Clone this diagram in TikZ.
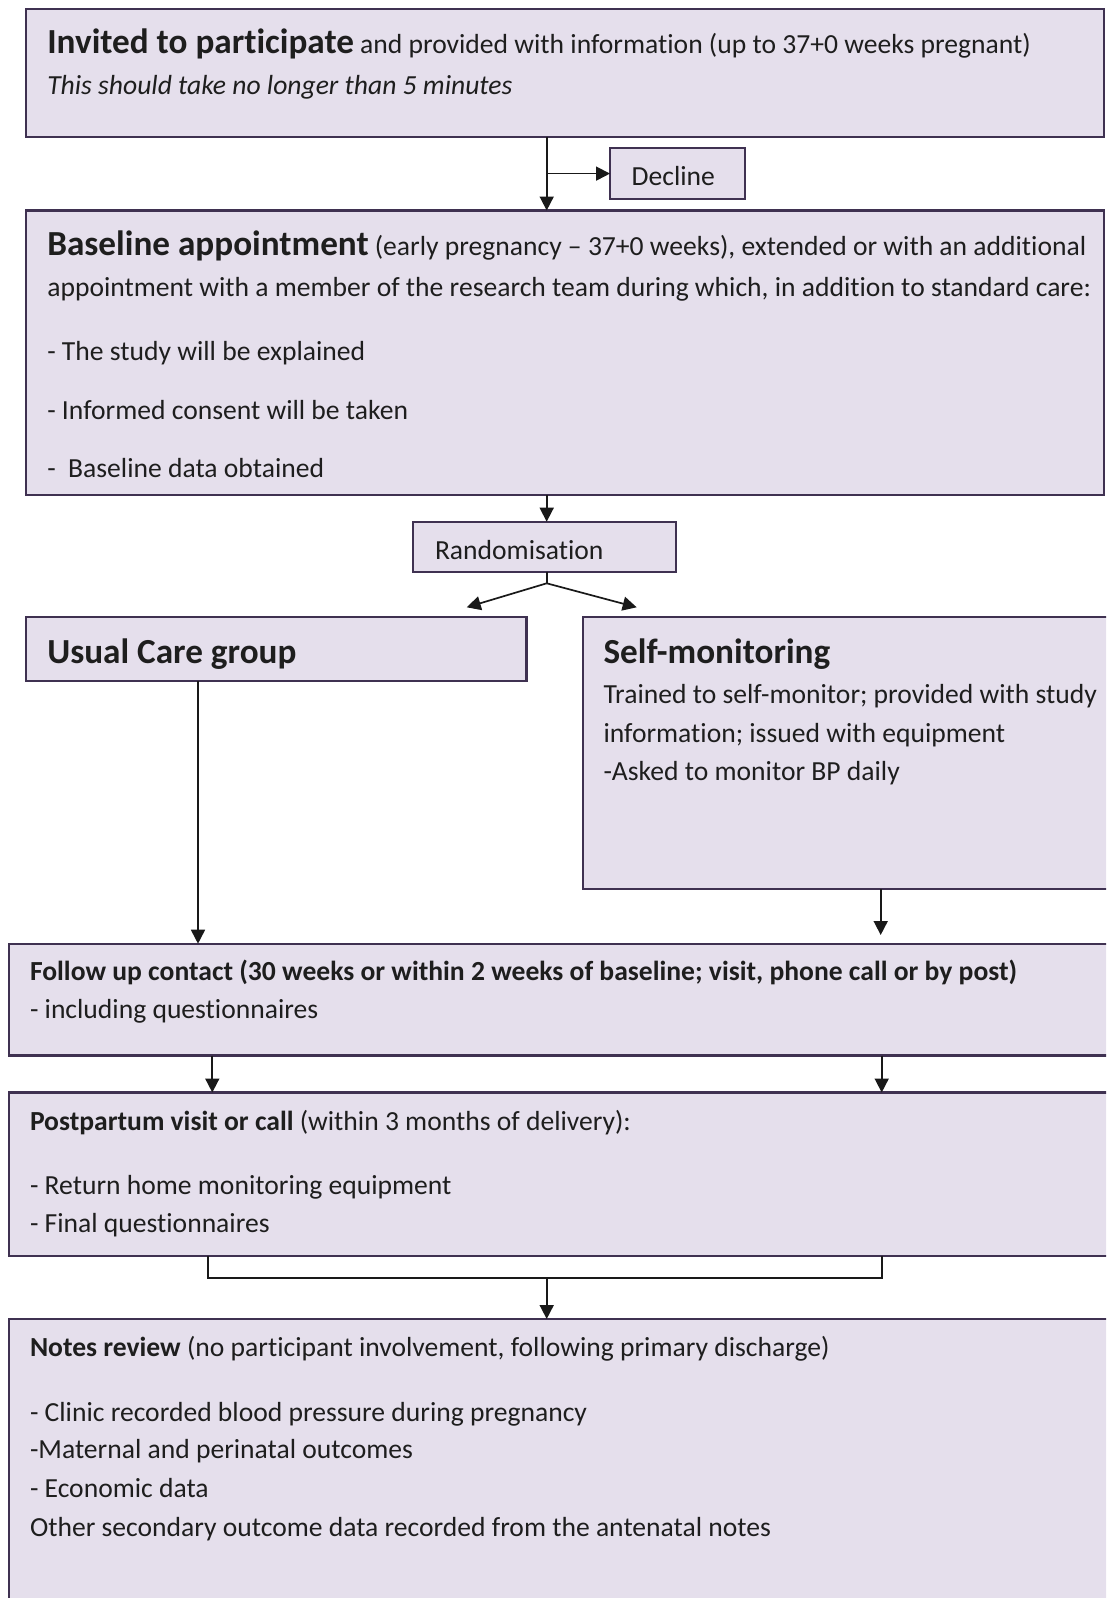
\documentclass[tikz,border=0pt]{standalone}
\usepackage{fontspec}
\setmainfont{Carlito}[Ligatures={NoCommon}]
\usetikzlibrary{arrows.meta,calc}
\definecolor{boxfill}{HTML}{E5DFEC}
\definecolor{boxline}{HTML}{3F3151}
\definecolor{txt}{HTML}{1E1E1E}
\newcommand{\bodyfs}{\fontsize{27.6}{33}\selectfont}
\newcommand{\titlefs}{\fontsize{35.2}{42}\selectfont}
\tikzset{
  box/.style={draw=boxline, line width=2.4pt, fill=boxfill, rectangle, inner sep=0pt, outer sep=0pt, anchor=north west},
  txtline/.style={anchor=base west, inner sep=0pt, outer sep=0pt, text=txt, font=\bodyfs},
  conn/.style={draw=black!90, line width=1.7pt},
  arr/.style={conn, -{Triangle[length=14pt,width=14pt]}},
}
\begin{document}
\begin{tikzpicture}[x=1pt,y=-1pt]
\useasboundingbox (0,0) rectangle (1106,1598);
\clip (0,0) rectangle (1106,1598);
\fill[white] (0,0) rectangle (1106,1598);
% boxes
\node[box, minimum width=1078pt, minimum height=127.7pt] (b1) at (26,9) {};
\node[box, minimum width=135pt, minimum height=50.7pt, line width=2pt] (dec) at (610,148.3) {};
\node[box, minimum width=1078pt, minimum height=284.5pt] (b2) at (26,210.5) {};
\node[box, minimum width=262.4pt, minimum height=50pt, line width=2pt] (rand) at (413.3,521.7) {};
\node[box, minimum width=500.5pt, minimum height=64.3pt] (usual) at (26,616.7) {};
\node[box, minimum width=537.3pt, minimum height=272.3pt] (self) at (582.7,616.7) {};
\node[box, minimum width=1111pt, minimum height=111.8pt] (follow) at (9,943.7) {};
\node[box, minimum width=1111pt, minimum height=163.5pt] (post) at (9,1092.5) {};
\node[box, minimum width=1111pt, minimum height=301pt] (notes) at (9,1319) {};
% texts
\node[txtline] (t1a) at (47.3,53.3) {{\titlefs\bfseries Invited to participate} and provided with information (up to 37+0 weeks pregnant)};
\node[txtline] (t1b) at (47.3,94) {\itshape This should take no longer than 5 minutes};
\node[txtline] (tdec) at (631.7,185.7) {Decline};
\node[txtline] (t2a) at (47.3,255) {{\titlefs\bfseries Baseline appointment} (early pregnancy – 37+0 weeks), extended or with an additional};
\node[txtline] (t2b) at (47.3,296.7) {appointment with a member of the research team during which, in addition to standard care:};
\node[txtline] (t2c) at (47.3,360.7) {- The study will be explained};
\node[txtline] (t2d) at (47.3,419) {- Informed consent will be taken};
\node[txtline] (t2e) at (47.3,477) {-\ \ Baseline data obtained};
\node[txtline] (trand) at (435,559) {Randomisation};
\node[txtline] (tuc) at (47.3,663) {\titlefs\bfseries Usual Care group};
\node[txtline] (tsm) at (603.5,663) {\titlefs\bfseries Self-monitoring};
\node[txtline] (tsm1) at (603.5,703.6) {Trained to self-monitor; provided with study};
\node[txtline] (tsm2) at (603.5,742) {information; issued with equipment};
\node[txtline] (tsm3) at (603.5,780.8) {-Asked to monitor BP daily};
\node[txtline] (tf1) at (30,980.7) {\bfseries Follow up contact (30 weeks or within 2 weeks of baseline; visit, phone call or by post)};
\node[txtline] (tf2) at (30,1018.3) {- including questionnaires};
\node[txtline] (tp1) at (30,1130) {\textbf{Postpartum visit or call} (within 3 months of delivery):};
\node[txtline] (tp2) at (30,1194) {- Return home monitoring equipment};
\node[txtline] (tp3) at (30,1232.7) {- Final questionnaires};
\node[txtline] (tn1) at (30,1356.7) {\textbf{Notes review} (no participant involvement, following primary discharge)};
\node[txtline] (tn2) at (30,1421.7) {- Clinic recorded blood pressure during pregnancy};
\node[txtline] (tn3) at (30,1458.3) {-Maternal and perinatal outcomes};
\node[txtline] (tn4) at (30,1497.7) {- Economic data};
\node[txtline] (tn5) at (30,1536.7) {Other secondary outcome data recorded from the antenatal notes};
% connectors
\coordinate (cx) at (546.7,0);
\coordinate (brd) at (546.7,173.6);
\draw[arr] (b1.south -| cx) -- (b2.north -| cx);
\draw[arr] (brd) -- (brd -| dec.west);
\draw[arr] (b2.south -| cx) -- (rand.north -| cx);
\coordinate (split) at (546.7,583.3);
\coordinate (ul) at (466.7,607.3);
\coordinate (ur) at (636.7,607.3);
\draw[conn] (rand.south -| cx) -- (split);
\draw[arr] (split) -- (ul);
\draw[arr] (split) -- (ur);
\coordinate (ux) at (198,0);
\draw[arr] (usual.south -| ux) -- (follow.north -| ux);
\coordinate (sx) at (880.7,0);
\coordinate (se) at (880.7,935);
\draw[arr] (self.south -| sx) -- (se);
\coordinate (px1) at (212.3,0);
\coordinate (px2) at (881.7,0);
\draw[arr] (follow.south -| px1) -- (post.north -| px1);
\draw[arr] (follow.south -| px2) -- (post.north -| px2);
\coordinate (bl) at (208,1278);
\coordinate (brr) at (881.7,1278);
\draw[conn] (post.south -| bl) -- (bl) -- (brr) -- (post.south -| brr);
\draw[arr] (bl -| cx) -- (notes.north -| cx);
\end{tikzpicture}
\end{document}
